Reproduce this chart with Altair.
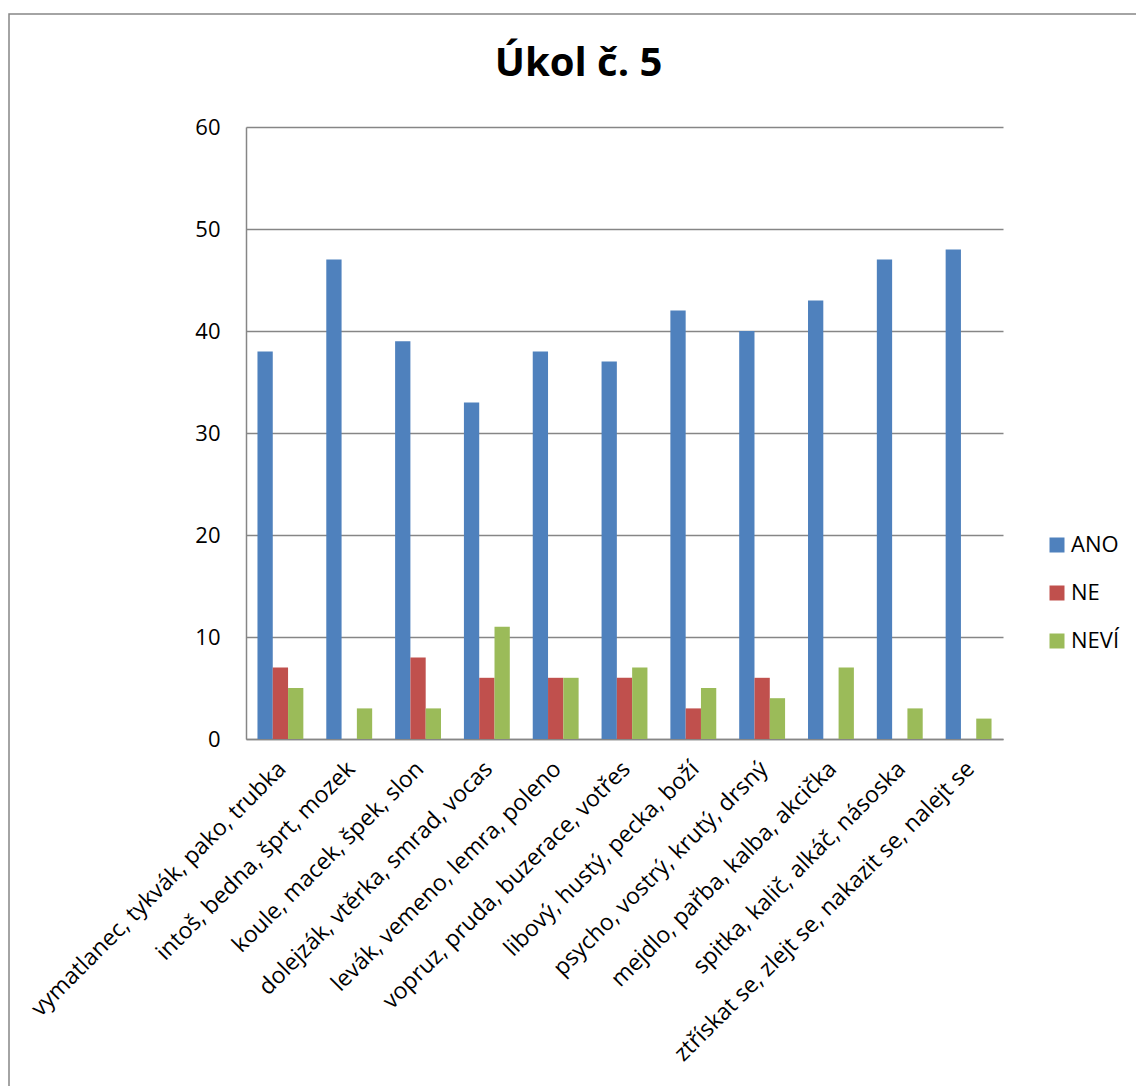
import altair as alt
import pandas as pd

categories = [
    "vymatlanec, tykvák, pako, trubka",
    "intoš, bedna, šprt, mozek",
    "koule, macek, špek, slon",
    "dolejzák, vtěrka, smrad, vocas",
    "levák, vemeno, lemra, poleno",
    "vopruz, pruda, buzerace, votřes",
    "libový, hustý, pecka, boží",
    "psycho, vostrý, krutý, drsný",
    "mejdlo, pařba, kalba, akcička",
    "spitka, kalič, alkáč, násoska",
    "ztřískat se, zlejt se, nakazit se, nalejt se",
]
series = ["ANO", "NE", "NEVÍ"]
ano = [38, 47, 39, 33, 38, 37, 42, 40, 43, 47, 48]
ne = [7, 0, 8, 6, 6, 6, 3, 6, 0, 0, 0]
nevi = [5, 3, 3, 11, 6, 7, 5, 4, 7, 3, 2]
colors = ["#4F81BD", "#C0504D", "#9BBB59"]
y_ticks = [0, 10, 20, 30, 40, 50, 60]

rows = []
for i, c in enumerate(categories):
    for s, vals in zip(series, [ano, ne, nevi]):
        rows.append({"kat": c, "serie": s, "hodnota": vals[i]})
df = pd.DataFrame(rows)

FONT = "Open Sans"
GRID = "#868686"
PW, PH = 757, 612
L, T = 246, 127

bars = alt.Chart(df).mark_bar().encode(
    x=alt.X(
        "kat:N",
        sort=categories,
        scale=alt.Scale(paddingInner=1 / 3, paddingOuter=1 / 6),
        axis=alt.Axis(
            title=None,
            labelAngle=-45,
            labelAlign="right",
            labelBaseline="middle",
            ticks=False,
            labelPadding=26,
            labelOffset=2,
            labelFont=FONT,
            labelFontSize=23,
            labelColor="#000000",
            domainColor=GRID,
            domainWidth=1.5,
            grid=False,
            labelLimit=0,
        ),
    ),
    xOffset=alt.XOffset("serie:N", sort=series, scale=alt.Scale(paddingInner=0, paddingOuter=0)),
    y=alt.Y(
        "hodnota:Q",
        scale=alt.Scale(domain=[0, 60], nice=False),
        axis=alt.Axis(
            title=None,
            values=y_ticks,
            ticks=False,
            labelPadding=26,
            labelFont=FONT,
            labelFontSize=22,
            labelColor="#000000",
            domainColor=GRID,
            domainWidth=1.5,
            gridColor=GRID,
            gridWidth=1.5,
        ),
    ),
    color=alt.Color(
        "serie:N",
        sort=series,
        scale=alt.Scale(domain=series, range=colors),
        legend=alt.Legend(
            title=None,
            orient="none",
            legendX=800,
            legendY=407,
            symbolType="square",
            symbolSize=225,
            symbolStrokeWidth=0,
            labelFont=FONT,
            labelFontSize=22,
            labelColor="#000000",
            rowPadding=26,
            labelOffset=3,
        ),
    ),
)

border = alt.Chart(pd.DataFrame({"a": [0]})).mark_rect(
    fillOpacity=0, stroke=GRID, strokeWidth=1.5
).encode(
    x=alt.value(9 - L),
    x2=alt.value(1136 - L + 30),
    y=alt.value(14 - T),
    y2=alt.value(1086 - T + 30),
)

chart = (
    alt.layer(border, bars)
    .properties(
        width=PW,
        height=PH,
        title=alt.TitleParams(
            "Úkol č. 5",
            font=FONT,
            fontSize=40,
            fontWeight="bold",
            color="#000000",
            anchor="middle",
            frame="group",
            dx=-46,
            baseline="alphabetic",
            offset=-103,
        ),
        autosize=alt.AutoSizeParams(type="none"),
        padding={"left": L, "top": T, "right": 1136 - L - PW, "bottom": 1086 - T - PH},
    )
    .configure(background="white")
    .configure_view(stroke=None)
)

chart.save("out.html", embed_options={"renderer": "svg", "actions": False})
